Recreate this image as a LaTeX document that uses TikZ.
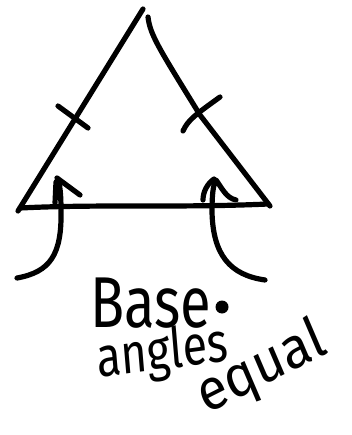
\documentclass[tikz,border=0pt]{standalone}
\usepackage{fontspec}
\setmainfont{Fira Sans}
\usetikzlibrary{calc}
\definecolor{inkblack}{RGB}{0,0,0}

\begin{document}
\begin{tikzpicture}[x=1pt,y=-1pt,line width=5.2pt,line cap=round,line join=round,
    pen/.style={draw=inkblack},
    word/.style={inner sep=0pt,anchor=base west,text=inkblack}]
    \useasboundingbox (0,0) rectangle (351,435);
    % triangle
    \coordinate (apexL) at (143,9);
    \coordinate (apexR) at (148,17);
    \coordinate (cornerL) at (18,211);
    \coordinate (cornerR) at (270,206);
    \draw[pen] (apexL) -- (cornerL);
    \draw[pen] (apexR) .. controls (150,35) and (160,50) .. (200,115) -- (cornerR);
    \draw[pen] (20,208) .. controls (100,204) and (180,208) .. (268,204);
    % equal sides
    \draw[pen] (58,106) -- (88,128);
    \draw[pen] (183,131) .. controls (188,120) and (195,115) .. (220,97);
    % base angle arrows
    \draw[pen] (17,278) .. controls (50,272) and (62,255) .. (61,210)
        .. controls (61,195) and (60,182) .. (57,178) -- (80,195);
    \draw[pen] (55,203) -- (56,182);
    \draw[pen] (265,280) .. controls (230,275) and (213,255) .. (212,212)
        .. controls (212,195) and (213,185) .. (216,180)
        .. controls (222,188) and (226,198) .. (236,200);
    \draw[pen] (203,200) .. controls (203,192) and (207,184) .. (214,179);
    % labels
    \node[word,font=\fontsize{72}{72}\selectfont,xscale=0.78] (base) at (88,327) {Base};
    \fill[inkblack] (222,307) circle (6.5);
    \node[word,font=\fontsize{56}{56}\selectfont,xscale=0.8,rotate=6] (angles) at (96,378) {angles};
    \node[word,font=\fontsize{58}{58}\selectfont,xscale=0.92,rotate=25] (equal) at (204,416) {equal};
\end{tikzpicture}
\end{document}
